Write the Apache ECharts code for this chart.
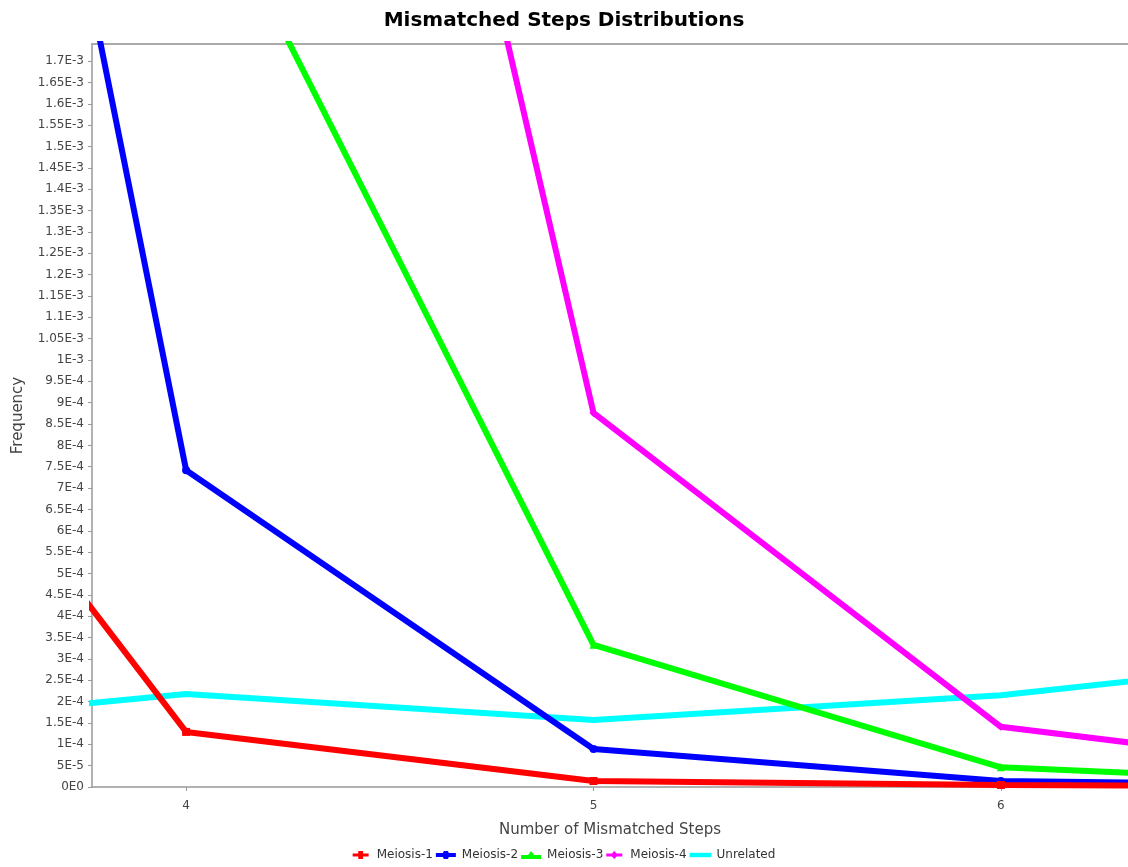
<!DOCTYPE html>
<html>
<head>
<meta charset="utf-8">
<script src="https://cdn.jsdelivr.net/npm/echarts@6/dist/echarts.min.js"></script>
<style>
  html, body { margin: 0; padding: 0; background: #fff; }
  #chart { width: 1128px; height: 867px; }
</style>
</head>
<body>
<div id="chart"></div>
<script>
// values, points outside the view are inferred from line slopes
const seriesNames = ['Meiosis-1', 'Meiosis-2', 'Meiosis-3', 'Meiosis-4', 'Unrelated']
const meiosis1 = [[3, 1.376e-3], [4, 1.29e-4], [5, 1.4e-5], [6, 4.7e-6], [7, 1e-6]]
const meiosis2 = [[3, 5.5e-3], [4, 7.42e-4], [5, 8.9e-5], [6, 1.4e-5], [7, 2e-6]]
const meiosis3 = [[4, 2.22e-3], [5, 3.33e-4], [6, 4.6e-5], [7, 6e-6]]
const meiosis4 = [[4, 4.99e-3], [5, 8.76e-4], [6, 1.41e-4], [7, 2.4e-5]]
const unrelated = [[3, 1.27e-4], [4, 2.18e-4], [5, 1.57e-4], [6, 2.15e-4], [7, 3.18e-4]]
const xTicks = [4, 5, 6]

const colors = ['#ff0000', '#0000ff', '#00ff00', '#ff00ff', '#00ffff']
const symbols = ['rect', 'circle', 'triangle', 'diamond', 'none']
const legendIcons = [
  'path://M0,5L7,5L7,2L13,2L13,5L20,5L20,9L13,9L13,12L7,12L7,9L0,9Z',
  'path://M0,5L7,5L8,3L12,3L13,5L20,5L20,9L13,9L12,11L8,11L7,9L0,9Z',
  'path://M0,5L7,5L10,1L13,5L20,5L20,9L0,9Z',
  'path://M0,5L7,5L10,2L13,5L20,5L20,9L13,9L10,12L7,9L0,9Z',
  'path://M0,5L20,5L20,9L0,9Z'
]

const sciLabel = v => {
  if (Math.abs(v) < 1e-12) return '0E0'
  const exp = Math.floor(Math.log10(v) + 1e-9)
  const mant = +(v / Math.pow(10, exp)).toFixed(2)
  return mant + 'E' + exp
}

const chart = echarts.init(document.getElementById('chart'))
const allData = [meiosis1, meiosis2, meiosis3, meiosis4, unrelated]

chart.setOption({
  backgroundColor: '#fff',
  animation: false,
  title: {
    text: 'Mismatched Steps Distributions',
    left: 'center',
    top: 6,
    textStyle: { fontFamily: 'DejaVu Sans', fontSize: 20, fontWeight: 'bold', color: '#000' }
  },
  legend: {
    bottom: 1,
    left: 'center',
    itemWidth: 22,
    itemHeight: 8,
    itemGap: 3,
    textStyle: { fontFamily: 'DejaVu Sans', fontSize: 12, color: '#333' },
    data: seriesNames.map((name, i) => ({ name, icon: legendIcons[i] }))
  },
  grid: {
    left: 92,
    top: 44,
    right: 0,
    bottom: 80
  },
  xAxis: [
    {
      type: 'value',
      min: 3.769,
      max: 6.312,
      name: 'Number of Mismatched Steps',
      nameLocation: 'middle',
      nameGap: 36,
      nameTextStyle: { fontFamily: 'DejaVu Sans', fontSize: 15, color: '#444' },
      splitLine: { show: false },
      axisLine: { lineStyle: { color: '#999', width: 1.5 } },
      axisTick: { customValues: xTicks, length: 4, lineStyle: { color: '#999' } },
      axisLabel: {
        customValues: xTicks,
        fontFamily: 'DejaVu Sans',
        fontSize: 12,
        color: '#444',
        margin: 13
      }
    },
    {
      // plain top border of the plot
      type: 'value',
      position: 'top',
      min: 3.769,
      max: 6.312,
      axisLine: { show: true, lineStyle: { color: '#aaa', width: 2 } },
      axisTick: { show: false },
      axisLabel: { show: false },
      splitLine: { show: false }
    }
  ],
  yAxis: {
    type: 'value',
    min: 0,
    max: 1.74e-3,
    interval: 5e-5,
    name: 'Frequency',
    nameLocation: 'middle',
    nameGap: 66,
    nameTextStyle: { fontFamily: 'DejaVu Sans', fontSize: 15, color: '#444' },
    splitLine: { show: false },
    axisLine: { show: true, lineStyle: { color: '#999', width: 1.5 } },
    axisTick: { show: true, length: 4, lineStyle: { color: '#999' } },
    axisLabel: {
      showMaxLabel: false,
      fontFamily: 'DejaVu Sans',
      fontSize: 12,
      color: '#444',
      margin: 8,
      formatter: sciLabel
    }
  },
  series: seriesNames.map((name, i) => ({
    type: 'line',
    name,
    data: allData[i],
    color: colors[i],
    symbol: symbols[i],
    symbolSize: 8,
    showSymbol: symbols[i] !== 'none',
    lineStyle: { width: 6, color: colors[i] },
    itemStyle: { color: colors[i] },
    clip: true,
    z: 10 - i
  }))
})
</script>
</body>
</html>
